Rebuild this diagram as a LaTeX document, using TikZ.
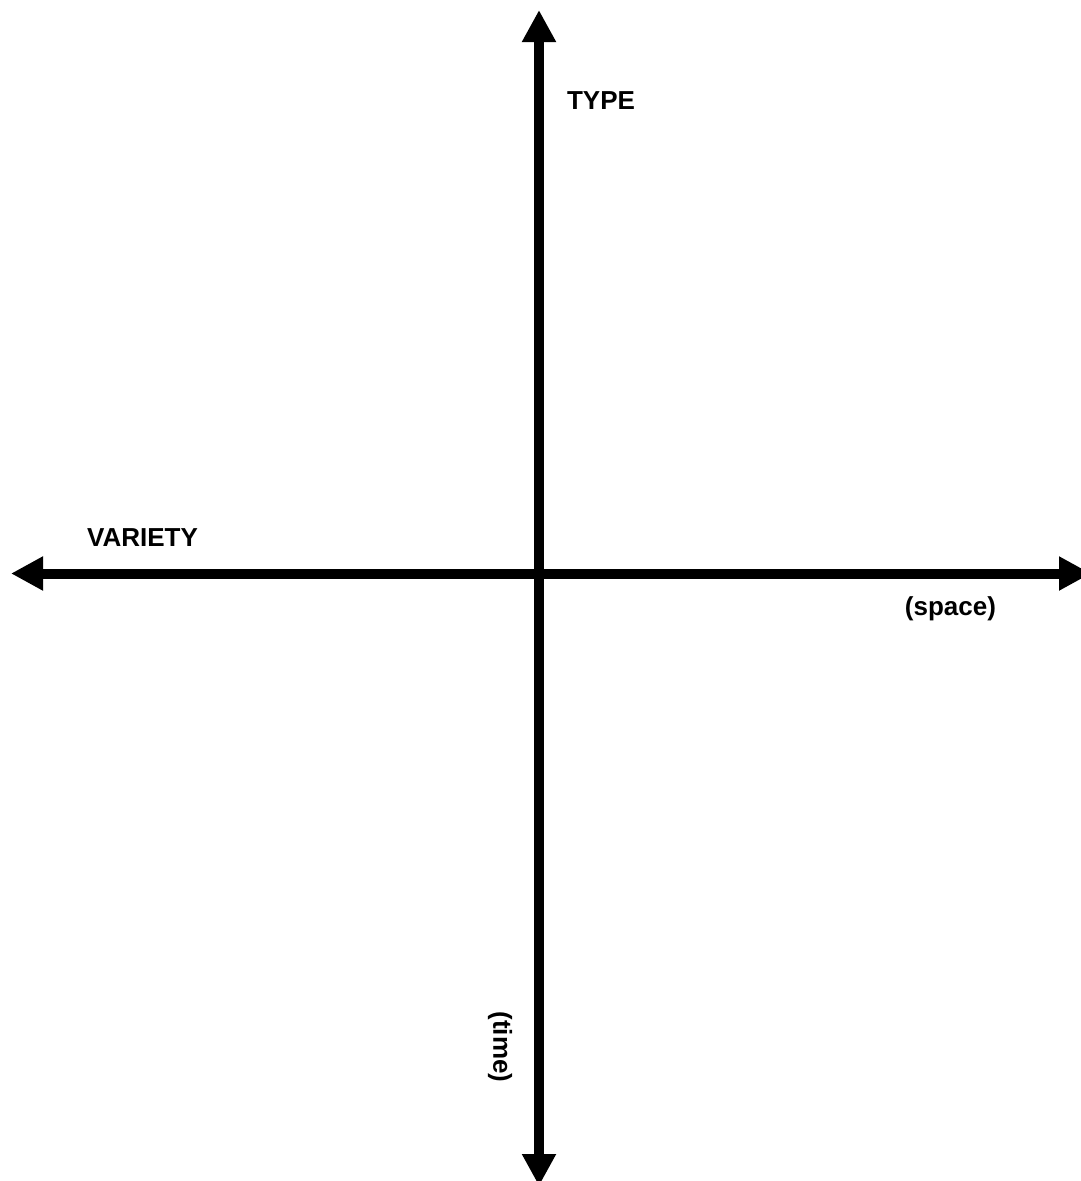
\documentclass[tikz,border=0pt]{standalone}
\usepackage{fontspec}
\setmainfont{Liberation Sans}
\usetikzlibrary{arrows.meta}
\tikzset{
  axis/.style={line width=10pt, {Triangle[length=32pt,width=32pt]}-{Triangle[length=32pt,width=32pt]}},
  lbl/.style={inner sep=0pt, font=\fontsize{26}{31}\selectfont\bfseries}
}
\begin{document}
\begin{tikzpicture}[x=1pt,y=-1pt]
\useasboundingbox[fill=white] (0,0) rectangle (1080,1181);
\coordinate (top) at (539,10);
\coordinate (bottom) at (539,1186);
\coordinate (left) at (11,573.5);
\coordinate (right) at (1091,573.5);
\draw[axis] (left) -- (right);
\draw[axis] (bottom) -- (top);
\node[lbl] (type) at (601,100.5) {TYPE};
\node[lbl] (variety) at (142.5,537.5) {VARIETY};
\node[lbl] (space) at (950.5,609) {(space)};
\node[lbl, rotate=-90] (time) at (500,1047) {(time)};
\end{tikzpicture}
\end{document}
